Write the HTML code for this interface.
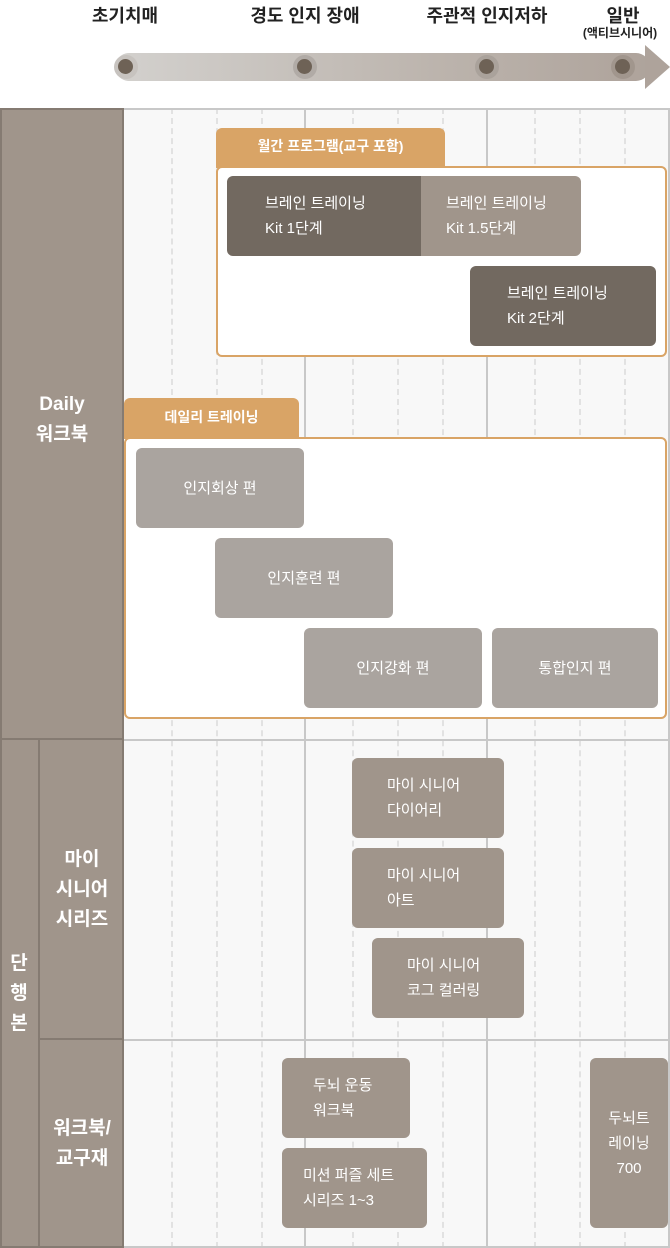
<!DOCTYPE html>
<html><head><meta charset="utf-8"><style>
*{margin:0;padding:0;box-sizing:border-box}
body{width:670px;height:1248px;background:#fff;position:relative;overflow:hidden;font-family:"Liberation Sans","Noto Sans CJK KR",sans-serif}
.a{position:absolute}
.h{font-weight:bold;font-size:18px;color:#222;text-align:center;white-space:nowrap}
.dl{position:absolute;top:108px;bottom:0;width:0;border-left:2px dashed #e2e2e2}
.sl{position:absolute;top:108px;bottom:0;width:2px;background:#c8c8c8}
.hl{position:absolute;left:123px;right:0;height:2px;background:#c8c8c8}
.b{position:absolute;border-radius:6px;color:#fff;font-size:15px;line-height:25px;display:flex;align-items:center}
.dk{background:#726960}
.md{background:#a0958b}
.lt{background:#aaa49f}
.c{justify-content:center;text-align:center}
.lab{position:absolute;color:#fff;font-weight:bold;font-size:19px;line-height:30px;text-align:center;display:flex;align-items:center;justify-content:center}
</style></head><body>
<div class="a h" style="left:75px;top:2px;width:100px">초기치매</div>
<div class="a h" style="left:235px;top:2px;width:140px">경도 인지 장애</div>
<div class="a h" style="left:407px;top:2px;width:160px">주관적 인지저하</div>
<div class="a h" style="left:583px;top:2px;width:80px">일반</div>
<div class="a" style="left:570px;top:24px;width:100px;text-align:center;font-size:12px;font-weight:bold;color:#222">(액티브시니어)</div>
<div class="a" style="left:115px;top:53px;width:535px;height:28px;border-radius:14px;background:linear-gradient(90deg,#d3d1ce,#bcb4ad 60%,#aea39b)"></div>
<div class="a" style="left:645px;top:45px;width:0;height:0;border-top:22px solid transparent;border-bottom:22px solid transparent;border-left:25px solid #aea39b"></div>
<div class="a" style="left:114px;top:55px;width:24px;height:24px;border-radius:50%;background:#c7c3bf"></div>
<div class="a" style="left:118px;top:59px;width:15px;height:15px;border-radius:50%;background:#6e6256"></div>
<div class="a" style="left:293px;top:55px;width:24px;height:24px;border-radius:50%;background:#b1aba6"></div>
<div class="a" style="left:297px;top:59px;width:15px;height:15px;border-radius:50%;background:#6e6256"></div>
<div class="a" style="left:475px;top:55px;width:24px;height:24px;border-radius:50%;background:#aaa29b"></div>
<div class="a" style="left:479px;top:59px;width:15px;height:15px;border-radius:50%;background:#6e6256"></div>
<div class="a" style="left:611px;top:55px;width:24px;height:24px;border-radius:50%;background:#a1968d"></div>
<div class="a" style="left:615px;top:59px;width:15px;height:15px;border-radius:50%;background:#6e6256"></div>

<div class="a" style="left:123px;top:108px;width:547px;height:1140px;background:#f8f8f8"></div>
<div class="dl" style="left:171px"></div><div class="dl" style="left:216px"></div><div class="dl" style="left:261px"></div>
<div class="dl" style="left:352px"></div><div class="dl" style="left:397px"></div><div class="dl" style="left:442px"></div>
<div class="dl" style="left:534px"></div><div class="dl" style="left:579px"></div><div class="dl" style="left:624px"></div>
<div class="sl" style="left:304px"></div><div class="sl" style="left:486px"></div><div class="sl" style="left:668px"></div>
<div class="hl" style="top:108px"></div><div class="hl" style="top:739px"></div><div class="hl" style="top:1039px"></div><div class="hl" style="top:1246px"></div>

<div class="a" style="left:0;top:108px;width:124px;height:1140px;background:#a0958b;border:2px solid #857b72"></div>
<div class="a" style="left:0;top:738px;width:124px;height:2px;background:#857b72"></div>
<div class="a" style="left:38px;top:738px;width:2px;height:510px;background:#857b72"></div>
<div class="a" style="left:38px;top:1038px;width:86px;height:2px;background:#857b72"></div>
<div class="lab" style="left:0;top:390px;width:124px">Daily<br>워크북</div>
<div class="lab" style="left:0;top:740px;width:38px;height:508px;line-height:30px">단<br>행<br>본</div>
<div class="lab" style="left:40px;top:740px;width:84px;height:300px">마이<br>시니어<br>시리즈</div>
<div class="lab" style="left:40px;top:1040px;width:84px;height:208px">워크북/<br>교구재</div>

<div class="a" style="left:216px;top:128px;width:229px;height:40px;background:#d9a466;border-radius:6px 6px 0 0;color:#fff;font-weight:bold;font-size:14px;text-align:center;line-height:36px">월간 프로그램(교구 포함)</div>
<div class="a" style="left:216px;top:166px;width:451px;height:191px;border:2px solid #d9a466;border-radius:6px;background:#fff"></div>
<div class="b dk" style="left:227px;top:176px;width:196px;height:80px;border-radius:6px 0 0 6px;padding-left:38px">브레인 트레이닝<br>Kit 1단계</div>
<div class="b md" style="left:421px;top:176px;width:160px;height:80px;border-radius:0 6px 6px 0;padding-left:25px">브레인 트레이닝<br>Kit 1.5단계</div>
<div class="b dk" style="left:470px;top:266px;width:186px;height:80px;padding-left:37px">브레인 트레이닝<br>Kit 2단계</div>

<div class="a" style="left:124px;top:398px;width:175px;height:41px;background:#d9a466;border-radius:6px 6px 0 0;color:#fff;font-weight:bold;font-size:14px;text-align:center;line-height:38px">데일리 트레이닝</div>
<div class="a" style="left:124px;top:437px;width:543px;height:282px;border:2px solid #d9a466;border-radius:6px;background:#fff"></div>
<div class="b lt c" style="left:136px;top:448px;width:168px;height:80px">인지회상 편</div>
<div class="b lt c" style="left:215px;top:538px;width:178px;height:80px">인지훈련 편</div>
<div class="b lt c" style="left:304px;top:628px;width:178px;height:80px">인지강화 편</div>
<div class="b lt c" style="left:492px;top:628px;width:166px;height:80px">통합인지 편</div>

<div class="b md" style="left:352px;top:758px;width:152px;height:80px;padding-left:35px">마이 시니어<br>다이어리</div>
<div class="b md" style="left:352px;top:848px;width:152px;height:80px;padding-left:35px">마이 시니어<br>아트</div>
<div class="b md" style="left:372px;top:938px;width:152px;height:80px;padding-left:35px">마이 시니어<br>코그 컬러링</div>
<div class="b md" style="left:282px;top:1058px;width:128px;height:80px;padding-left:31px">두뇌 운동<br>워크북</div>
<div class="b md" style="left:282px;top:1148px;width:145px;height:80px;padding-left:21px">미션 퍼즐 세트<br>시리즈 1~3</div>
<div class="b md c" style="left:590px;top:1058px;width:78px;height:170px">두뇌트<br>레이닝<br>700</div>
</body></html>
